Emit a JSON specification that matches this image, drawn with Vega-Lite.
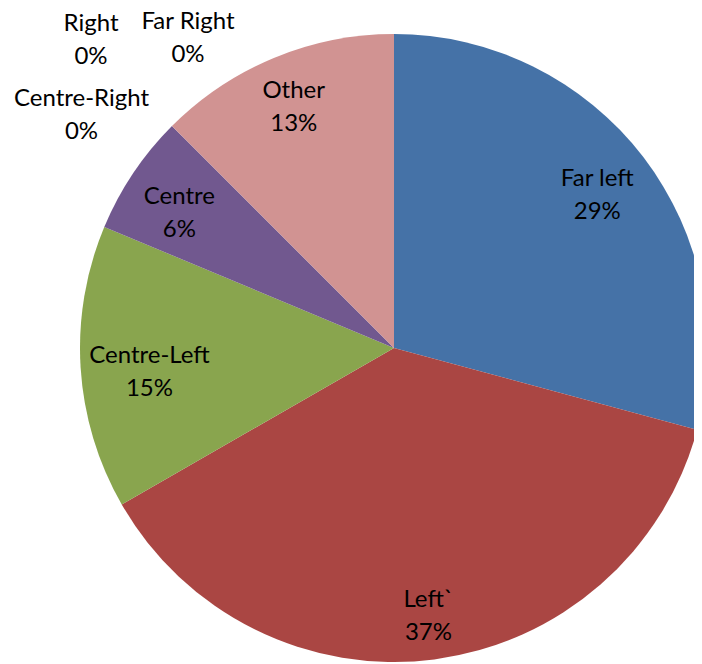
{
  "$schema": "https://vega.github.io/schema/vega-lite/v6.json",
  "autosize": "none",
  "width": 600,
  "height": 628,
  "padding": {"left": 94, "top": 34, "right": 0, "bottom": 0},
  "background": "white",
  "config": {"view": {"stroke": null}, "text": {"font": "Lato", "fontSize": 24, "lineBreak": "\n", "lineHeight": 33, "align": "center", "baseline": "middle", "color": "black"}},
  "data": {
    "values": [
      {"cat": "Far left", "pct": "29%", "value": 29.2, "order": 1},
      {"cat": "Left`", "pct": "37%", "value": 37.5, "order": 2},
      {"cat": "Centre-Left", "pct": "15%", "value": 14.6, "order": 3},
      {"cat": "Centre", "pct": "6%", "value": 6.2, "order": 4},
      {"cat": "Centre-Right", "pct": "0%", "value": 0, "order": 5},
      {"cat": "Right", "pct": "0%", "value": 0, "order": 6},
      {"cat": "Far Right", "pct": "0%", "value": 0, "order": 7},
      {"cat": "Other", "pct": "13%", "value": 12.5, "order": 8}
    ]
  },
  "transform": [
    {"calculate": "datum.cat + '\\n' + datum.pct", "as": "label"},
    {"stack": "value", "groupby": [], "sort": [{"field": "order", "order": "ascending"}], "as": ["v0", "v1"]},
    {"calculate": "(datum.v0 + datum.v1) / 2", "as": "mid"}
  ],
  "layer": [
    {
      "mark": {"type": "arc", "outerRadius": 314},
      "encoding": {
        "theta": {"field": "v0", "type": "quantitative", "scale": {"domain": [0, 100]}},
        "theta2": {"field": "v1"},
        "color": {
          "field": "cat",
          "type": "nominal",
          "scale": {
            "domain": ["Far left", "Left`", "Centre-Left", "Centre", "Centre-Right", "Right", "Far Right", "Other"],
            "range": ["#4572A7", "#AA4643", "#89A54E", "#71588F", "#4198AF", "#DB843D", "#93A9CF", "#D19392"]
          },
          "legend": null
        }
      }
    },
    {
      "transform": [{"filter": "datum.cat === 'Far left'"}],
      "mark": {"type": "text", "radius": 256, "dy": -13.5},
      "encoding": {"theta": {"field": "mid", "type": "quantitative"}, "text": {"field": "label"}}
    },
    {
      "transform": [{"filter": "datum.cat === 'Centre'"}],
      "mark": {"type": "text", "radius": 256, "dy": -8.5, "dx": -2},
      "encoding": {"theta": {"field": "mid", "type": "quantitative"}, "text": {"field": "label"}}
    },
    {
      "transform": [{"filter": "datum.cat === 'Left`'"}],
      "mark": {"type": "text", "radius": 268, "dy": -13.5},
      "encoding": {"theta": {"field": "mid", "type": "quantitative"}, "text": {"field": "label"}}
    },
    {
      "transform": [{"filter": "datum.cat === 'Centre-Left'"}],
      "mark": {"type": "text", "radius": 245, "dy": -7.5},
      "encoding": {"theta": {"field": "mid", "type": "quantitative"}, "text": {"field": "label"}}
    },
    {
      "transform": [{"filter": "datum.cat === 'Other'"}],
      "mark": {"type": "text", "radius": 262, "dy": -15},
      "encoding": {"theta": {"field": "mid", "type": "quantitative"}, "text": {"field": "label"}}
    },
    {
      "transform": [{"filter": "datum.cat === 'Centre-Right'"}],
      "mark": {"type": "text", "radius": 350, "dx": -65, "dy": -2},
      "encoding": {"theta": {"field": "v1", "type": "quantitative"}, "text": {"field": "label"}}
    },
    {
      "transform": [{"filter": "datum.cat === 'Right'"}],
      "mark": {"type": "text", "radius": 350, "dx": -55.5, "dy": -76.5},
      "encoding": {"theta": {"field": "v1", "type": "quantitative"}, "text": {"field": "label"}}
    },
    {
      "transform": [{"filter": "datum.cat === 'Far Right'"}],
      "mark": {"type": "text", "radius": 350, "dx": 41.5, "dy": -79},
      "encoding": {"theta": {"field": "v1", "type": "quantitative"}, "text": {"field": "label"}}
    }
  ]
}
